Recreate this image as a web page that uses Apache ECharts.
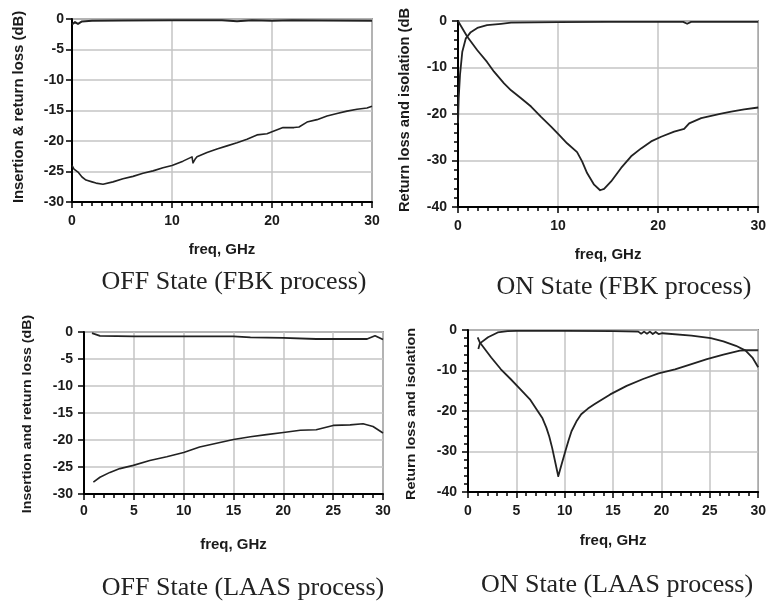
<!DOCTYPE html>
<html><head><meta charset="utf-8">
<script src="https://cdn.jsdelivr.net/npm/echarts@6/dist/echarts.min.js"></script>
<style>html,body{margin:0;padding:0;background:#fff}#c{width:769px;height:601px}</style>
</head><body><div id="c"></div><script>
// ---- Panel 1: OFF State (FBK process) ----
const p1RlFreq = [0, 0.2, 0.6, 1.0, 1.4, 2.0, 2.4, 3.1, 4.1, 5.1, 6.1, 7.1, 8.1, 9.1, 10, 11.1, 12.0, 12.1, 12.3, 12.5, 13.5, 14.5, 15.5, 16.5, 17.5, 18.5, 19.5, 20, 21.1, 22.2, 22.7, 23.5, 24.5, 25.5, 26.5, 27.5, 28.5, 29.5, 30];
const p1Rl = [-24.0, -24.6, -25.1, -25.9, -26.4, -26.7, -26.9, -27.1, -26.7, -26.2, -25.8, -25.3, -24.9, -24.4, -24.0, -23.3, -22.6, -23.6, -23.0, -22.6, -21.9, -21.3, -20.8, -20.3, -19.7, -19.0, -18.8, -18.5, -17.8, -17.8, -17.7, -16.9, -16.5, -15.9, -15.5, -15.1, -14.8, -14.6, -14.3];
const p1IlFreq = [0, 0.3, 0.6, 1.0, 2, 5, 10, 15, 16.5, 18, 20, 22, 25, 30];
const p1Il = [-0.9, -0.5, -0.8, -0.4, -0.3, -0.25, -0.2, -0.2, -0.35, -0.2, -0.3, -0.2, -0.25, -0.3];

// ---- Panel 2: ON State (FBK process) ----
const p2RlFreq = [0, 0.93, 1.93, 2.9, 3.6, 4.6, 5.3, 6.3, 7.3, 8.3, 9.3, 10.1, 10.9, 11.9, 12.4, 12.9, 13.6, 14.2, 14.6, 15.3, 16.3, 17.3, 18.3, 19.3, 20.3, 21.6, 22.6, 23.1, 24.3, 25.3, 26.3, 27.3, 28.6, 30];
const p2Rl = [0, -3.4, -6.3, -8.8, -10.9, -13.4, -14.9, -16.6, -18.4, -20.6, -22.7, -24.5, -26.3, -28.2, -30.2, -32.7, -35.2, -36.4, -36.1, -34.5, -31.6, -29.1, -27.4, -25.9, -24.9, -23.8, -23.2, -22.0, -20.9, -20.4, -19.9, -19.5, -19.0, -18.6];
const p2IlFreq = [0, 0.07, 0.2, 0.43, 0.77, 1.27, 1.93, 2.9, 4.3, 5.3, 10, 15, 20, 22.5, 22.9, 23.3, 25, 30];
const p2Il = [-22, -16.6, -11.6, -6.6, -3.8, -2.4, -1.5, -0.9, -0.6, -0.35, -0.25, -0.2, -0.2, -0.2, -0.6, -0.2, -0.2, -0.2];

// ---- Panel 3: OFF State (LAAS process) ----
const p3RlFreq = [0.94, 1.6, 2.6, 3.6, 4.95, 6.6, 8.3, 10.0, 11.6, 13.3, 15.0, 16.7, 18.3, 20.0, 21.7, 23.3, 25.0, 26.7, 28.0, 29.0, 30];
const p3Rl = [-27.8, -26.9, -26.0, -25.3, -24.7, -23.8, -23.1, -22.3, -21.3, -20.6, -19.9, -19.4, -19.0, -18.6, -18.2, -18.1, -17.3, -17.2, -17.0, -17.5, -18.7];
const p3IlFreq = [0.8, 1.6, 5, 10, 15, 16.7, 20, 23.3, 28.4, 29.2, 30];
const p3Il = [-0.2, -0.7, -0.8, -0.8, -0.8, -1.0, -1.1, -1.3, -1.3, -0.7, -1.4];

// ---- Panel 4: ON State (LAAS process) ----
const p4RlFreq = [1.0, 1.23, 2.4, 3.4, 4.4, 5.4, 6.4, 7.2, 7.7, 8.1, 8.4, 8.7, 9.07, 9.33, 9.67, 10.07, 10.4, 10.7, 11.2, 11.7, 12.4, 13.1, 14.7, 16.4, 18.1, 19.7, 21.4, 23.1, 24.7, 26.4, 28.1, 28.7, 30];
const p4Rl = [-1.8, -3.1, -6.8, -9.7, -12.1, -14.6, -17.1, -20.0, -21.8, -24.1, -26.3, -29.1, -33.2, -36.1, -33.2, -29.9, -27.2, -25.0, -22.6, -20.8, -19.4, -18.3, -15.9, -13.8, -12.1, -10.7, -9.7, -8.4, -7.2, -6.1, -5.1, -5.0, -5.0];
const p4IlFreq = [1.07, 1.23, 2.07, 3.07, 4.1, 5, 10, 15, 17.6, 17.9, 18.2, 18.5, 18.8, 19.1, 19.4, 19.7, 20.1, 23.1, 25.1, 26.4, 27.7, 28.7, 29.4, 30];
const p4Il = [-4.7, -3.3, -1.8, -0.6, -0.3, -0.2, -0.2, -0.3, -0.4, -0.9, -0.4, -0.9, -0.4, -1.0, -0.5, -1.0, -0.8, -1.4, -2.0, -2.8, -3.9, -5.1, -6.8, -9.2];

// ---- Texts ----
const yNames = ['Insertion & return loss (dB)', 'Return loss and isolation (dB', 'Insertion and return loss (dB)', 'Return loss and isolation'];
const xName = 'freq, GHz';
const captions = ['OFF State (FBK process)', 'ON State (FBK process)', 'OFF State (LAAS process)', 'ON State (LAAS process)'];

const FONT = 'Liberation Sans';
const SERIF = 'Liberation Serif';
const INK = '#1a1a1a';

function pairs(xs, ys) { return xs.map((x, i) => [x, ys[i]]); }

const grids = [
  { left: 72, top: 19, width: 300, height: 183 },
  { left: 458, top: 21, width: 302, height: 186 },
  { left: 84, top: 332, width: 299, height: 162 },
  { left: 468, top: 330, width: 300, height: 162 }
].map(g => Object.assign(g, { show: true, borderColor: '#555', borderWidth: 1.5, backgroundColor: 'transparent' }));

const xCfg = [
  { interval: 10, minor: 10, margin: 12, gap: 40 },
  { interval: 10, minor: 10, margin: 12, gap: 40 },
  { interval: 5, minor: 5, margin: 10, gap: 43 },
  { interval: 5, minor: 5, margin: 12, gap: 41 }
];
const yCfg = [
  { min: -30, interval: 5, minor: false, margin: 8 },
  { min: -40, interval: 10, minor: true, margin: 11 },
  { min: -30, interval: 5, minor: false, margin: 11 },
  { min: -40, interval: 10, minor: true, margin: 11 }
];

const xAxes = xCfg.map((c, i) => ({
  type: 'value', gridIndex: i, min: 0, max: 30, interval: c.interval,
  name: xName, nameLocation: 'middle', nameGap: c.gap,
  nameTextStyle: { fontFamily: FONT, fontSize: 15, fontWeight: 'bold', color: INK },
  axisLine: { show: true, onZero: false, lineStyle: { color: '#000', width: 2 } },
  axisTick: { show: true, length: 6, lineStyle: { color: '#000', width: 1.5 } },
  minorTick: { show: true, splitNumber: c.minor, length: 4, lineStyle: { color: '#000', width: 1.5 } },
  axisLabel: { fontFamily: FONT, fontSize: 14, fontWeight: 'bold', color: INK, margin: c.margin, showMinLabel: true, showMaxLabel: true },
  splitLine: { show: true, lineStyle: { color: '#c4c4c4', width: 1.5 } }
}));
const yAxes = yCfg.map((c, i) => ({
  type: 'value', gridIndex: i, min: c.min, max: 0, interval: c.interval,
  axisLine: { show: true, onZero: false, lineStyle: { color: '#000', width: 2 } },
  axisTick: { show: true, length: 6, lineStyle: { color: '#000', width: 1.5 } },
  minorTick: { show: c.minor, splitNumber: 5, length: 4, lineStyle: { color: '#000', width: 1.5 } },
  axisLabel: { fontFamily: FONT, fontSize: 14, fontWeight: 'bold', color: INK, margin: c.margin, showMinLabel: true, showMaxLabel: true },
  splitLine: { show: true, lineStyle: { color: '#c4c4c4', width: 1.5 } }
}));

function line(i, xs, ys, w) {
  return { type: 'line', xAxisIndex: i, yAxisIndex: i, data: pairs(xs, ys), showSymbol: false, symbol: 'none',
    lineStyle: { color: '#222', width: w || 1.6, join: 'round' }, silent: true, clip: true };
}
const series = [
  line(0, p1IlFreq, p1Il, 2), line(0, p1RlFreq, p1Rl),
  line(1, p2IlFreq, p2Il, 1.8), line(1, p2RlFreq, p2Rl, 1.8),
  line(2, p3IlFreq, p3Il, 1.8), line(2, p3RlFreq, p3Rl),
  line(3, p4IlFreq, p4Il, 1.8), line(3, p4RlFreq, p4Rl, 1.8)
];

const yNameLayout = [
  { x: 19, y: 107, fs: 15, sx: 0.99 },
  { x: 405, y: 110, fs: 15, sx: 0.98 },
  { x: 28, y: 414, fs: 12, sx: 1.18 },
  { x: 412, y: 414, fs: 12, sx: 1.2 }
];
const capLayout = [
  { x: 234, y: 282 }, { x: 624, y: 287 }, { x: 243, y: 588 }, { x: 617, y: 585 }
];
const graphics = [];
yNames.forEach((t, i) => {
  const L = yNameLayout[i];
  graphics.push({ type: 'text', x: L.x, y: L.y, rotation: Math.PI / 2, scaleX: L.sx, scaleY: 1, silent: true,
    style: { text: t, align: 'center', verticalAlign: 'middle', fontFamily: FONT, fontSize: L.fs, fontWeight: 'bold', fill: INK } });
});
captions.forEach((t, i) => {
  const L = capLayout[i];
  graphics.push({ type: 'text', x: L.x, y: L.y, silent: true,
    style: { text: t, align: 'center', verticalAlign: 'middle', fontFamily: SERIF, fontSize: 26, fill: '#222' } });
});

const chart = echarts.init(document.getElementById('c'), null, { renderer: 'canvas' });
chart.setOption({
  animation: false,
  backgroundColor: '#fff',
  grid: grids,
  xAxis: xAxes,
  yAxis: yAxes,
  series: series,
  graphic: graphics
});
</script></body></html>
